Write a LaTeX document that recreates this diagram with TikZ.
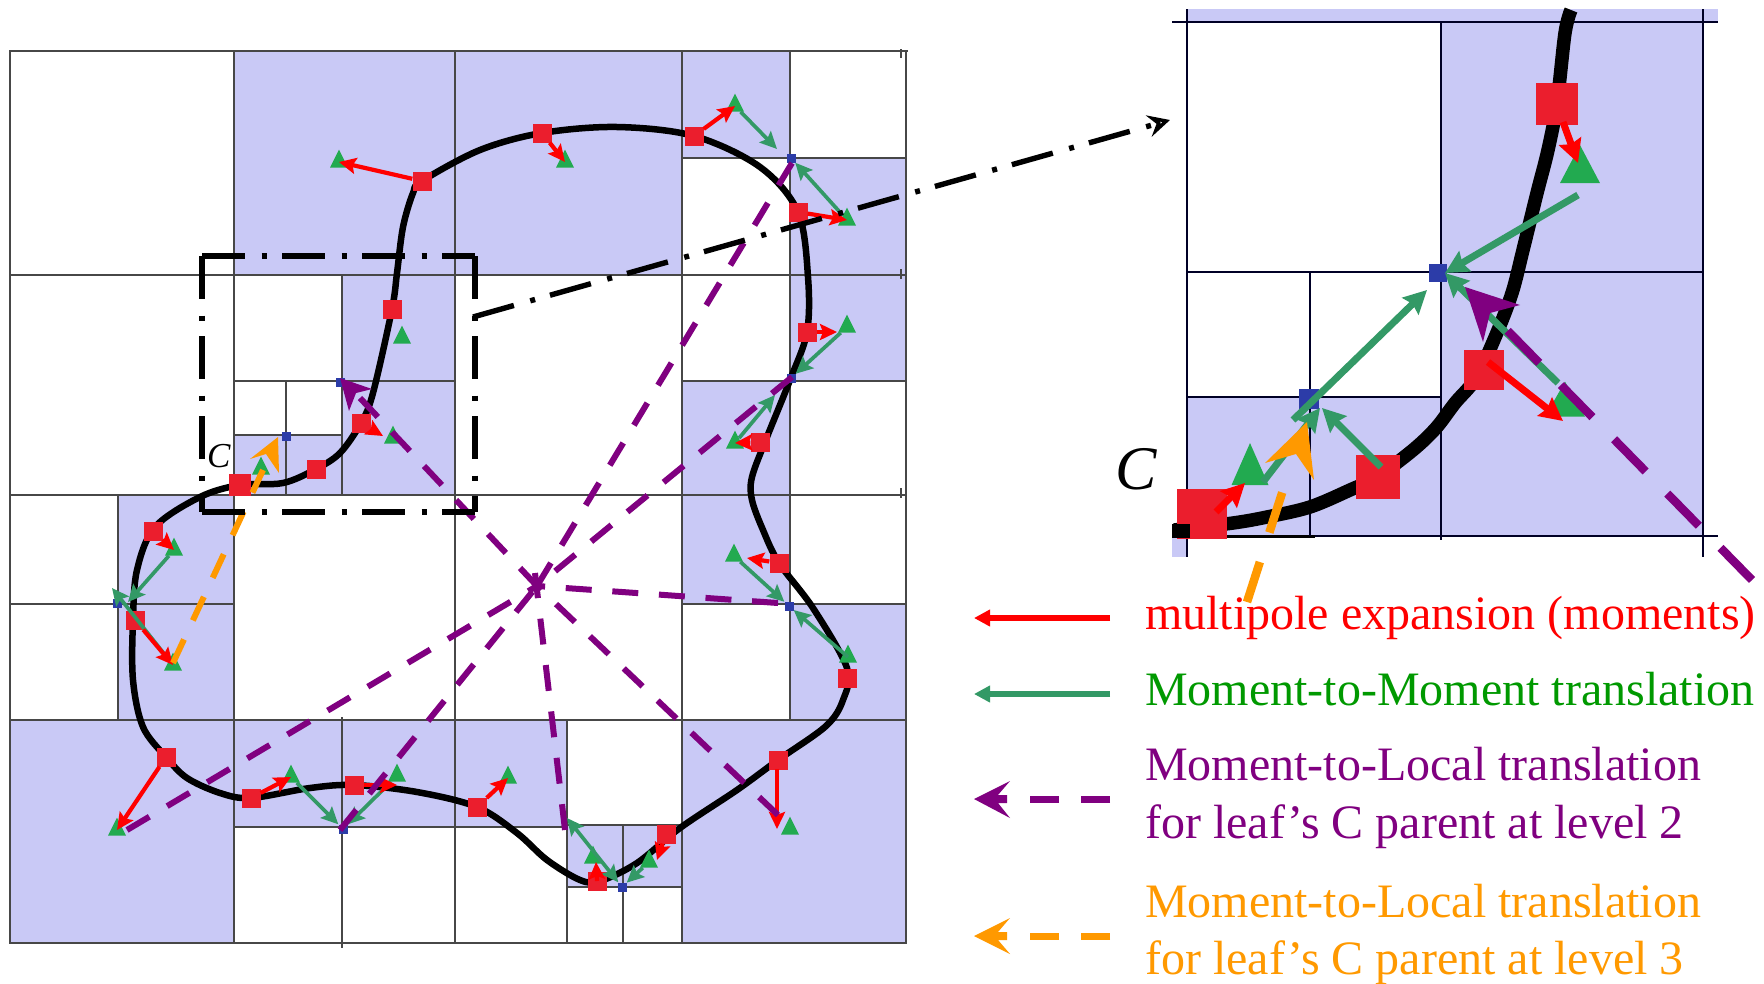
\documentclass[tikz,border=0pt]{standalone}
\usepackage{fontspec}
\setmainfont{Liberation Serif}
\usetikzlibrary{arrows.meta,shapes.geometric}
\definecolor{shade}{HTML}{C9C9F6}
\definecolor{mred}{HTML}{EB1E2D}
\definecolor{mgreen}{HTML}{22AA50}
\definecolor{mblue}{HTML}{2C3CA8}
\definecolor{agreen}{HTML}{339966}
\definecolor{apurple}{HTML}{800080}
\definecolor{aorange}{HTML}{FF9900}
\definecolor{tgreen}{HTML}{009900}
\tikzset{
  x=1pt,y=-1pt,
  cell/.style={fill=shade,draw=none},
  gridl/.style={draw=black!72,line width=1.3pt},
  igrid/.style={draw=black!85!blue,line width=1.9pt},
  sq/.style={rectangle,fill=mred,inner sep=0pt,minimum size=#1},
  sq/.default=19pt,
  tri/.style={isosceles triangle,shape border rotate=90,isosceles triangle stretches,fill=mgreen,inner sep=0pt,minimum width=18pt,minimum height=18pt},
  itri/.style={tri,minimum width=40pt,minimum height=38pt},
  bl/.style={rectangle,fill=mblue,inner sep=0pt,minimum size=#1},
  bl/.default=9pt,
  rarr/.style={draw=red,line width=4.2pt,-{Stealth[length=17pt,width=16pt,inset=3pt]}},
  garr/.style={draw=agreen,line width=3.7pt,-{Stealth[length=17pt,width=16pt,inset=3pt]}},
  garrb/.style={garr,{Stealth[length=17pt,width=16pt,inset=3pt]}-{Stealth[length=17pt,width=16pt,inset=3pt]}},
  irarr/.style={draw=red,line width=7pt,-{Stealth[length=23pt,width=23pt,inset=3pt]}},
  igarr/.style={draw=agreen,line width=7pt,-{Stealth[length=23pt,width=23pt,inset=3pt]}},
  pdash/.style={draw=apurple,line width=6pt,dash pattern=on 26pt off 20.7pt},
  odash/.style={draw=aorange,line width=6pt,dash pattern=on 26pt off 21pt},
  ipdash/.style={draw=apurple,line width=8.5pt,dash pattern=on 45pt off 31pt},
  iodash/.style={draw=aorange,line width=8.5pt,dash pattern=on 42pt off 31pt},
  ddot/.style={draw=black,line width=5.4pt,dash pattern=on 42.5pt off 17pt on 5pt off 15.5pt},
  lab/.style={anchor=base west,inner sep=0pt,font=\fontsize{48}{57.5}\selectfont},
}
\begin{document}
\begin{tikzpicture}
\useasboundingbox (0,0) rectangle (1764,983);
\fill[white] (0,0) rectangle (1764,983);
% ---- main: shaded cells
\fill[cell] (234,51) rectangle (682,275);
\fill[cell] (682,51) rectangle (790,158);
\fill[cell] (790,158) rectangle (906,381);
\fill[cell] (682,381) rectangle (790,604);
\fill[cell] (790,604) rectangle (906,720);
\fill[cell] (682,720) rectangle (906,943);
\fill[cell] (234,720) rectangle (567,827);
\fill[cell] (567,825) rectangle (682,887);
\fill[cell] (10,720) rectangle (234,943);
\fill[cell] (118,495) rectangle (234,720);
\fill[cell] (342,275) rectangle (455,495);
\fill[cell] (234,435) rectangle (342,495);
% ---- main: grid
\draw[gridl] (10,51) rectangle (906,943);
\foreach \a/\b/\c in {234/51/943,455/51/943,682/51/943,790/51/720,342/275/495,342/717/948,286/381/495,118/495/720,567/720/943,623/825/943,901/49/58,901/269/279,901/488/498}
  \draw[gridl] (\a,\b) -- (\a,\c);
\foreach \a/\b/\c in {275/10/906,495/10/906,720/10/906,604/10/234,604/682/906,158/682/906,381/234/455,381/682/906,435/234/342,827/234/567,825/567/682,887/567/682,51/890/908}
  \draw[gridl] (\b,\a) -- (\c,\a);
% ---- main: curve
\draw[black,line width=6.5pt,line join=round] plot[smooth cycle,tension=0.55] coordinates {
(422,181)(480,150)(542,133)(617,127)(694,136)(760,167)(798,212)(808,277)(807,332)(790,380)(767,437)(752,477)(752,500)(763,530)(779,563)(813,608)(847,668)(843,700)(826,726)(778,760)(737,790)(680,828)(637,863)(600,881)(580,880)(547,860)(517,833)(477,807)(417,792)(354,785)(310,788)(251,798)(220,793)(187,778)(166,757)(143,727)(133,680)(133,620)(137,570)(155,527)(200,497)(240,485)(283,483)(316,469)(340,453)(361,423)(373,393)(392,309)(397,273)(403,227)(413,193)};
% ---- main: markers
\node[tri] (tH) at (848,657) {};
\foreach \n/\p in {sA/{422,181},sB/{542,133},sC/{694,136},sD/{798,212},sE/{807,332},sF/{760,442},sG/{779,563},sH/{847,678},sI/{778,760},sJ/{666,834},sK/{597,881},sL/{477,807},sM/{354,785},sN/{251,798},sO/{166,757},sP/{135,620},sQ/{153,531},sS/{316,469},sT/{361,423},sU/{392,309}}
  \node[sq] (\n) at (\p) {};
\node[sq=22pt] (sR) at (240,485) {};
\foreach \n/\p in {tA/{339,162},tB/{565,162},tC/{735,106},tD/{847,220},tE/{847,327},tF/{735,443},tG/{734,556},tI/{790,829},tJ/{649,862},tK/{593,858},tL/{508,778},tM/{397,776},tN/{291,777},tO/{117,830},tP/{173,665},tQ/{174,550},tR/{261,469},tS/{393,438},tU/{402,338}}
  \node[tri] (\n) at (\p) {};
\foreach \n/\p in {bA/{340,382},bB/{286,436},bC/{791,158},bD/{791,378},bE/{789,606},bF/{622,887},bG/{343,829},bH/{117,603}}
  \node[bl] (\n) at (\p) {};
% ---- main: free ends of arrows
\coordinate (gC) at (777,149);
\coordinate (gF) at (775,395);
\coordinate (gK) at (567,818);
\coordinate (gQ) at (128,602);
\coordinate (gP) at (112,588);
\coordinate (rE) at (837,332);
\coordinate (rG) at (747,558);
\coordinate (rI0) at (777,769);
\coordinate (rI) at (777,829);
\coordinate (rJ) at (657,860);
\coordinate (rK) at (596,862);
\coordinate (rM) at (397,785);
\coordinate (rS) at (383,436);
% ---- main: moment-to-moment arrows
\draw[garr] (tC) -- (gC);
\draw[garr] (tD) -- (bC);
\draw[garr] (tE) -- (bD);
\draw[garr] (tF) -- (gF);
\draw[garr] (tG) -- (bE);
\draw[garr] (tH.center) -- (bE);
\draw[garr] (tJ) -- (bF);
\draw[garrb] (gK) -- (bF);
\draw[garr] (tN) -- (bG);
\draw[garr] (tM) -- (bG);
\draw[garr] (tQ) -- (gQ);
\draw[garr] (tP) -- (gP);
% ---- main: multipole arrows
\foreach \s/\t in {sA/tA,sB/tB,sC/tC,sD/tD,sF/tF,sL/tL,sN/tN,sO/tO,sP/tP,sQ/tQ}
  \draw[rarr] (\s) -- (\t.center);
\draw[rarr] (sE) -- (rE);
\draw[rarr] (sG) -- (rG);
\draw[rarr] (rI0) -- (rI);
\draw[rarr] (sJ) -- (rJ);
\draw[rarr] (sK.center) -- (rK);
\draw[rarr] (sM) -- (rM);
\draw[rarr] (sT) -- (rS);
% ---- main: level-2 translations
\coordinate (hub) at (537,586);
\coordinate (p1) at (360,398);
\coordinate (p2) at (792,163);
\coordinate (p3) at (792,377);
\coordinate (p4) at (778,603);
\coordinate (p5) at (778,815);
\coordinate (p6) at (565,830);
\coordinate (p7) at (340,830);
\coordinate (p8) at (127,830);
\coordinate (p9) at (535,573);
\foreach \p in {p1,p2,p3,p4,p5,p7,p8}
  \draw[pdash] (\p) -- (hub);
\draw[pdash] (p6) -- (p9);
\coordinate (pT) at (340,378);
\coordinate (pB1) at (372,389);
\coordinate (pN) at (356,393);
\coordinate (pB2) at (349,411);
\fill[apurple] (pT) -- (pB1) -- (pN) -- (pB2) -- cycle;
% ---- main: level-3 translation
\coordinate (o1) at (173,663);
\coordinate (o2) at (263,470);
\draw[odash] (o1) -- (o2);
\coordinate (oT) at (278,437);
\coordinate (oB1) at (250,459);
\coordinate (oN) at (266,454);
\coordinate (oB2) at (279,473);
\fill[aorange] (oT) -- (oB1) -- (oN) -- (oB2) -- cycle;
% ---- main: C
\node[anchor=base west,inner sep=0pt,font=\fontsize{35}{40}\selectfont\itshape] (cA) at (207,467) {C};
% ---- zoom window and link
\coordinate (wTL) at (202,256);
\coordinate (wTR) at (475,256);
\coordinate (wBL) at (202,512);
\coordinate (wBR) at (475,512);
\draw[ddot] (wTL) -- (wTR);
\draw[ddot] (wTL) -- (wBL);
\draw[ddot] (wTR) -- (wBR);
\draw[ddot] (wBL) -- (wBR);
\coordinate (lA) at (473,317);
\coordinate (lB) at (1170,120);
\draw[ddot,-{Stealth[open,length=22pt,width=22pt,inset=8pt,line width=4.5pt]}] (lA) -- (lB);
% ---- inset: cells
\fill[cell] (1187,9) rectangle (1718,22);
\fill[cell] (1441,22) rectangle (1703,536);
\fill[cell] (1187,397) rectangle (1441,536);
\fill[cell] (1172,536) rectangle (1187,557);
% ---- inset: grid
\draw[igrid] (1172,22) -- (1718,22);
\draw[igrid] (1187,272) -- (1703,272);
\draw[igrid] (1187,397) -- (1441,397);
\draw[igrid] (1310,536) -- (1718,536);
\draw[black,line width=3.2pt] (1172,536.5) -- (1315,536.5);
\draw[igrid] (1187,9) -- (1187,557);
\draw[igrid] (1441,22) -- (1441,540);
\draw[igrid] (1703,9) -- (1703,557);
\draw[igrid] (1310,272) -- (1310,536);
% ---- inset: curve
\draw[black,line width=13.5pt] plot[smooth,tension=0.55] coordinates {(1571,10)(1565,33)(1557,103)(1548,150)(1537,193)(1523,250)(1512,293)(1496,335)(1476,378)(1455,403)(1436,428)(1413,450)(1377,477)(1350,490)(1310,507)(1267,517)(1233,523)(1174,530)};
% ---- inset: markers
\node[sq=42pt] (isA) at (1557,104) {};
\node[sq=40pt] (isB) at (1484,370) {};
\node[sq=44pt] (isC) at (1378,477) {};
\node[sq=50pt] (isD) at (1202,514) {};
\fill[black] (1172,524) rectangle (1190,538);
\node[itri] (itA) at (1580,171) {};
\node[itri,minimum width=37pt,minimum height=42pt] (itB) at (1250,473) {};
\node[itri,minimum height=35pt] (itC) at (1565,405) {};
\node[bl=18pt] (ibA) at (1438,273) {};
\node[bl=20pt] (ibB) at (1309,399) {};
% ---- inset: free ends
\coordinate (jB0) at (1263,482);
\coordinate (jB) at (1320,408);
\coordinate (jC0) at (1293,420);
\coordinate (jC) at (1427,290);
\coordinate (kA0) at (1563,122);
\coordinate (kA) at (1578,163);
\coordinate (kB0) at (1488,362);
\coordinate (kB) at (1563,421);
\coordinate (kD0) at (1216,512);
\coordinate (kD) at (1245,483);
\coordinate (jE) at (1445,273);
\coordinate (jE0) at (1578,195);
\coordinate (jF0) at (1558,383);
\coordinate (jG0) at (1381,467);
\coordinate (jG) at (1322,408);
% ---- inset: arrows
\draw[igarr] (jE0) -- (jE);
\draw[igarr] (jF0) -- (jE);
\draw[igarr] (jG0) -- (jG);
\draw[igarr] (jB0) -- (jB);
\draw[igarr] (jC0) -- (jC);
\draw[irarr] (kA0) -- (kA);
\draw[irarr] (kB0) -- (kB);
\draw[irarr] (kD0) -- (kD);
% ---- inset: level-2 and level-3
\coordinate (q1) at (1752,580);
\coordinate (q2) at (1505,328);
\draw[ipdash] (q1) -- (q2);
\coordinate (qT) at (1465,287);
\coordinate (qB1) at (1520,305);
\coordinate (qN) at (1490,313);
\coordinate (qB2) at (1483,342);
\fill[apurple] (qT) -- (qB1) -- (qN) -- (qB2) -- cycle;
\coordinate (u1) at (1247,602);
\coordinate (u2) at (1283,490);
\draw[iodash] (u1) -- (u2);
\coordinate (uT) at (1307,422);
\coordinate (uB1) at (1265,463);
\coordinate (uN) at (1296,454);
\coordinate (uB2) at (1314,480);
\fill[aorange] (uT) -- (uB1) -- (uN) -- (uB2) -- cycle;
\node[anchor=base west,inner sep=0pt,font=\fontsize{62}{70}\selectfont\itshape] (cB) at (1115,489) {C};
% ---- legend
\coordinate (aR0) at (1110,618); \coordinate (aR1) at (974,618);
\coordinate (aG0) at (1110,694); \coordinate (aG1) at (974,694);
\draw[draw=red,line width=5.5pt,-{Triangle[length=16pt,width=16pt]}] (aR0) -- (aR1);
\draw[draw=agreen,line width=5.5pt,-{Triangle[length=16pt,width=16pt]}] (aG0) -- (aG1);
\coordinate (aP0) at (1110,799); \coordinate (aP1) at (1029,799);
\draw[draw=apurple,line width=7pt,dash pattern=on 29pt off 22pt] (aP0) -- (aP1);
\coordinate (aPT) at (974,799); \coordinate (aPa) at (1010,781); \coordinate (aPn) at (998,795); \coordinate (aPm) at (1007,795); \coordinate (aPo) at (1007,803); \coordinate (aPp) at (998,803); \coordinate (aPb) at (1010,818);
\fill[apurple] (aPT) -- (aPa) -- (aPn) -- (aPm) -- (aPo) -- (aPp) -- (aPb) -- cycle;
\coordinate (aO0) at (1110,936); \coordinate (aO1) at (1029,936);
\draw[draw=aorange,line width=7pt,dash pattern=on 29pt off 22pt] (aO0) -- (aO1);
\coordinate (aOT) at (974,936); \coordinate (aOa) at (1010,918); \coordinate (aOn) at (998,932); \coordinate (aOm) at (1007,932); \coordinate (aOo) at (1007,940); \coordinate (aOp) at (998,940); \coordinate (aOb) at (1010,954);
\fill[aorange] (aOT) -- (aOa) -- (aOn) -- (aOm) -- (aOo) -- (aOp) -- (aOb) -- cycle;
\node[lab,text=red] (t1) at (1145,629) {multipole expansion (moments)};
\node[lab,text=tgreen] (t2) at (1145,705) {Moment-to-Moment translation};
\node[lab,text=apurple] (t3) at (1145,780.5) {Moment-to-Local translation};
\node[lab,text=apurple] (t4) at (1145,838) {for leaf’s C parent at level 2};
\node[lab,text=aorange] (t5) at (1145,917) {Moment-to-Local translation};
\node[lab,text=aorange] (t6) at (1145,974) {for leaf’s C parent at level 3};
\end{tikzpicture}
\end{document}
